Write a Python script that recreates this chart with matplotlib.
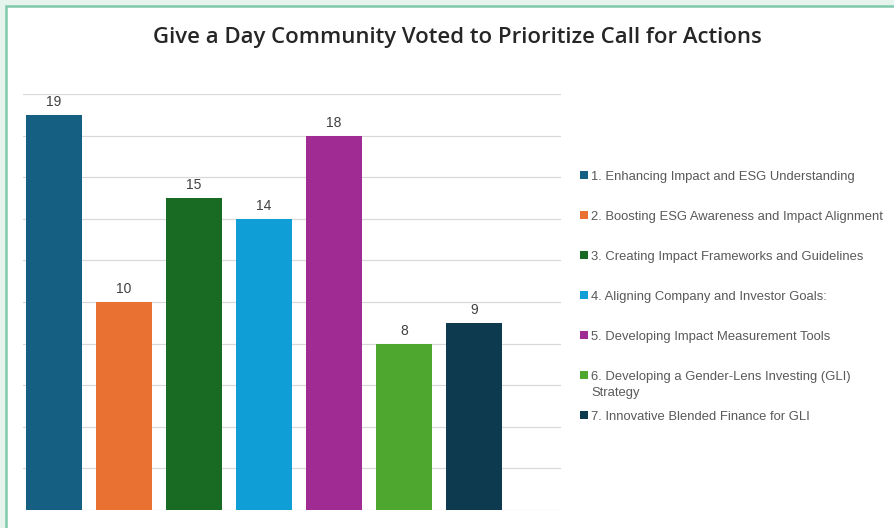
import matplotlib.pyplot as plt
from matplotlib.patches import Rectangle

# data
categories = [
    "1. Enhancing Impact and ESG Understanding",
    "2. Boosting ESG Awareness and Impact Alignment",
    "3. Creating Impact Frameworks and Guidelines",
    "4. Aligning Company and Investor Goals:",
    "5. Developing Impact Measurement Tools",
    "6. Developing a Gender-Lens Investing (GLI)\nStrategy",
    "7. Innovative Blended Finance for GLI",
]
votes = [19, 10, 15, 14, 18, 8, 9]
colors = ["#156082", "#e97132", "#196b24", "#0f9ed5", "#a02b93", "#4ea72e", "#0e3a50"]
title = "Give a Day Community Voted to Prioritize Call for Actions"

W, H = 894, 528
fig = plt.figure(figsize=(W / 100, H / 100), dpi=100)
fig.patch.set_facecolor("#e6f4ee")

# white card with green border
fig.patches.append(Rectangle((6 / W, -0.05), 1.05, (H - 6) / H + 0.05,
                             transform=fig.transFigure, facecolor="white",
                             edgecolor="#80c9ab", linewidth=1.8, zorder=-5))

# plot area: gridlines from x=23..561, y=94..510 (px)
ax = fig.add_axes([23 / W, (H - 510) / H, (561 - 23) / W, (510 - 94) / H])
ax.set_zorder(2)
ax.set_facecolor("none")
x = list(range(len(votes)))
ax.bar(x, votes, width=0.8, color=colors, zorder=3)
ax.set_xlim(-0.443, 7.243)
ax.set_ylim(0, 20)
ax.set_yticks(range(0, 21, 2))
ax.yaxis.grid(True, color="#d9d9d9", linewidth=0.9, zorder=0)
ax.tick_params(left=False, bottom=False, labelleft=False, labelbottom=False)
for s in ax.spines.values():
    s.set_visible(False)

for xi, v in zip(x, votes):
    ax.annotate(str(v), (xi, v), xytext=(0, 4), textcoords="offset points",
                ha="center", va="bottom", fontsize=10, color="#404040",
                family="Liberation Sans")

fig.text(457 / W, 1 - 37 / H, title, ha="center", va="center",
         fontsize=15.9, color="#262626", family="Open Sans", fontweight="semibold")

# legend
top = 175
step = 40
for i, (lab, c) in enumerate(zip(categories, colors)):
    yc = top + i * step
    fig.patches.append(Rectangle((580 / W, 1 - (yc + 4) / H), 8 / W, 8 / H,
                                 transform=fig.transFigure, facecolor=c,
                                 edgecolor="none", zorder=2))
    fig.text(591 / W, 1 - (yc - 4) / H, lab, ha="left", va="top",
             fontsize=9.4, color="#595959", family="Liberation Sans",
             linespacing=1.4)

fig.savefig("out.png", dpi=100, facecolor=fig.get_facecolor())
